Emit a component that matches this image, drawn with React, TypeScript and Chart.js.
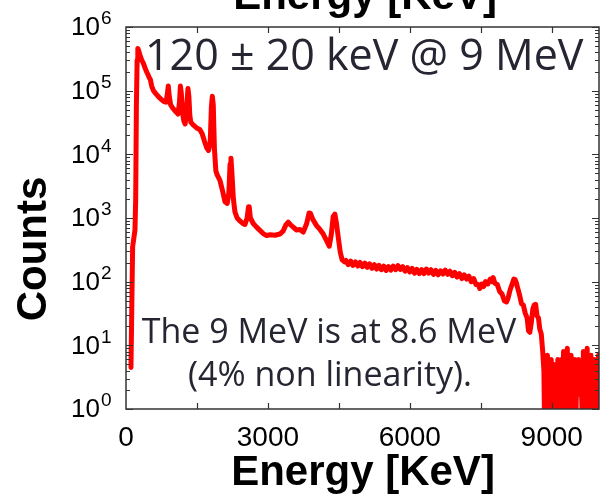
import React, { useEffect, useRef } from "react";
import { Chart, registerables } from "chart.js";

Chart.register(...registerables);

// ---- data ----
const peakEnergy = [
  105, 140, 190, 205, 220, 235, 250, 270, 300, 335, 366, 400, 440, 470, 493, 515, 543, 580, 630, 690,
  754, 810, 850, 875, 894, 912, 944, 990, 1050, 1100, 1130, 1150, 1170, 1195, 1225, 1250, 1280, 1310, 1330, 1350,
  1370, 1420, 1494, 1560, 1610, 1660, 1710, 1745, 1780, 1805, 1825, 1845, 1870, 1900, 1930, 1986, 2040, 2092, 2140, 2175,
  2200, 2219, 2240, 2270, 2303, 2350, 2409, 2470, 2515, 2560, 2590, 2605, 2630, 2690, 2760, 2831, 2900, 2973, 3050, 3150,
  3254, 3320, 3380, 3430, 3480, 3536, 3600, 3677, 3747, 3820, 3870, 3900, 3950, 4029, 4100, 4170, 4240, 4297, 4340, 4380,
  4416, 4450, 4490, 4530, 4570, 4620,
];
const peakCounts = [
  4.5, 350, 650, 2000, 60000, 300000, 460000, 420000, 350000, 300000, 270000, 230000, 195000, 175000, 160000, 150000, 118000, 100000, 90000, 80000,
  72000, 67000, 66000, 90000, 118000, 85000, 60000, 53000, 47000, 43000, 65000, 118000, 90000, 45000, 33000, 30000, 50000, 108000, 80000, 40000,
  32000, 29000, 26000, 24500, 21000, 16000, 12500, 11500, 15000, 55000, 82000, 60000, 12000, 5500, 4700, 3900, 2700, 1800, 1700, 2500,
  7000, 8700, 5000, 2000, 1250, 1000, 900, 820, 790, 1000, 1500, 1500, 1000, 820, 720, 640, 570, 530, 545, 535,
  560, 620, 780, 860, 780, 720, 650, 660, 600, 820, 1200, 1180, 950, 760, 660, 560, 440, 360, 550, 1050,
  1150, 820, 480, 290, 220, 205,
];

const plateauEnergy = [
  4650, 4700, 4750, 4800, 4850, 4900, 4950, 5000, 5050, 5100, 5150, 5200, 5250, 5300, 5350, 5400, 5450, 5500, 5550, 5600,
  5650, 5700, 5750, 5800, 5850, 5900, 5950, 6000, 6050, 6100, 6150, 6200, 6250, 6300, 6350, 6400, 6450, 6500, 6550, 6600,
  6650, 6700, 6750, 6800, 6850, 6900, 6950, 7000, 7050, 7100, 7150, 7200, 7250, 7300, 7350, 7400, 7450, 7480, 7520, 7560,
  7600, 7650, 7700, 7740, 7762, 7800, 7850, 7900, 7950, 8000, 8044, 8080, 8120, 8160, 8200, 8225, 8250, 8280, 8320, 8361,
  8400, 8440, 8480, 8510, 8537, 8570, 8600, 8630, 8660, 8690, 8720, 8748, 8780, 8810, 8835,
];
const plateauCounts = [
  215, 185, 210, 180, 205, 176, 200, 172, 196, 168, 190, 162, 186, 158, 180, 154, 176, 150, 172, 152,
  176, 154, 178, 156, 172, 146, 166, 142, 162, 136, 156, 134, 154, 134, 158, 136, 154, 130, 150, 128,
  148, 132, 152, 130, 146, 124, 140, 118, 134, 112, 128, 110, 122, 100, 112, 90, 90, 78, 92, 84,
  100, 92, 110, 100, 116, 94, 90, 70, 64, 50, 48, 56, 74, 90, 110, 108, 97, 80, 62, 45,
  43, 32, 27, 17, 16, 23, 37, 43, 44, 29, 27, 18, 15, 8, 4,
];

const tailEnergy = [
  8850, 8870, 8890, 8910, 8930, 8950, 8970, 8990, 9010, 9030, 9050, 9070, 9090, 9110, 9130, 9150, 9170, 9190, 9210, 9230,
  9250, 9270, 9290, 9310, 9330, 9350, 9370, 9390, 9410, 9430, 9450, 9470, 9490, 9510, 9530, 9550, 9570, 9590, 9610, 9630,
  9650, 9670, 9690, 9710, 9730, 9750, 9770, 9790, 9810, 9830, 9850, 9870, 9890, 9910, 9930, 9950, 9970, 9990,
];
const tailCounts = [
  0.5, 5, 0.5, 7, 0.5, 4, 2, 6, 1.8, 0.5, 5, 0.5, 3, 1.6, 6, 2, 4, 0.5, 6, 0.5,
  8, 0.5, 5, 0.5, 9, 0.5, 6, 0.5, 7, 0.5, 4, 0.5, 6, 0.5, 5, 2, 6, 1.7, 5, 2,
  0.5, 8, 0.5, 6, 0.5, 9, 0.5, 5, 0.5, 7, 0.5, 4, 0.5, 6, 0.5, 5, 0.5, 7,
];

const energyKeV = [...peakEnergy, ...plateauEnergy, ...tailEnergy];
const counts = [...peakCounts, ...plateauCounts, ...tailCounts];

const xTickValues = [0, 1500, 3000, 4500, 6000, 7500, 9000];
const xTickLabels = ["0", "", "3000", "", "6000", "", "9000"];
const yDecades = [0, 1, 2, 3, 4, 5, 6];

const axisTitleX = "Energy [KeV]";
const axisTitleY = "Counts";
const noteTop = "120 ± 20 keV @ 9 MeV";
const noteLine1 = "The 9 MeV is at 8.6 MeV";
const noteLine2 = "(4% non linearity).";

const decorPlugin = {
  id: "decor",
  afterDraw(chart: any) {
    const ctx = chart.ctx as CanvasRenderingContext2D;
    const { left, right, top, bottom } = chart.chartArea;
    const xs = chart.scales.x;
    const ys = chart.scales.y;
    ctx.save();
    const frameColor = "#333333";
    ctx.strokeStyle = frameColor;
    ctx.lineWidth = 1.5;
    ctx.strokeRect(left, top, right - left, bottom - top);

    // x ticks (bottom and top, inward)
    ctx.lineWidth = 1.2;
    xTickValues.forEach((v) => {
      const px = Math.round(xs.getPixelForValue(v)) + 0.5;
      if (v === 0) return;
      ctx.beginPath();
      ctx.moveTo(px, bottom);
      ctx.lineTo(px, bottom - 6);
      ctx.moveTo(px, top);
      ctx.lineTo(px, top + 6);
      ctx.stroke();
    });
    // y ticks (left and right, inward), major + minor
    yDecades.forEach((d) => {
      for (let m = 1; m <= 9; m++) {
        const val = m * Math.pow(10, d);
        if (val > 1e6) break;
        const py = Math.round(ys.getPixelForValue(val)) + 0.5;
        const len = m === 1 ? 7 : 4;
        ctx.beginPath();
        ctx.moveTo(left, py);
        ctx.lineTo(left + len, py);
        ctx.moveTo(right, py);
        ctx.lineTo(right - len, py);
        ctx.stroke();
      }
    });

    // y tick labels 10^n
    ctx.fillStyle = "#000";
    yDecades.forEach((d) => {
      const py = ys.getPixelForValue(Math.pow(10, d));
      ctx.font = "26px 'Liberation Sans', Arial, sans-serif";
      ctx.textAlign = "right";
      ctx.textBaseline = "middle";
      ctx.fillText("10", 100, py + 1);
      ctx.font = "19px 'Liberation Sans', Arial, sans-serif";
      ctx.textAlign = "left";
      ctx.fillText(String(d), 101, py - 8);
    });

    // x tick labels
    ctx.font = "28px 'Liberation Sans', Arial, sans-serif";
    ctx.textAlign = "center";
    ctx.textBaseline = "alphabetic";
    xTickValues.forEach((v, i) => {
      if (!xTickLabels[i]) return;
      ctx.fillText(xTickLabels[i], xs.getPixelForValue(v), bottom + 37);
    });

    // axis titles
    ctx.font = "bold 42px 'Liberation Sans', Arial, sans-serif";
    ctx.textAlign = "center";
    ctx.fillText(axisTitleX, 363, 485);
    ctx.fillText(axisTitleX, 365, 9);
    ctx.save();
    ctx.translate(46, 249);
    ctx.rotate(-Math.PI / 2);
    ctx.textBaseline = "alphabetic";
    ctx.fillText(axisTitleY, 0, 0);
    ctx.restore();

    // annotations
    ctx.fillStyle = "#262633";
    ctx.textAlign = "left";
    ctx.font = "43px 'Open Sans', 'Noto Sans', sans-serif";
    ctx.fillText(noteTop, 145, 70);
    ctx.textAlign = "center";
    ctx.font = "34px 'Open Sans', 'Noto Sans', sans-serif";
    ctx.fillText(noteLine1, 329, 343);
    ctx.fillText(noteLine2, 330, 386);
    ctx.restore();
  },
};

export default function App() {
  const ref = useRef<HTMLCanvasElement | null>(null);
  useEffect(() => {
    if (!ref.current) return;
    const chart = new Chart(ref.current, {
      type: "line",
      data: {
        datasets: [
          {
            data: energyKeV.map((e, i) => ({ x: e, y: counts[i] })),
            borderColor: "#ff0000",
            borderWidth: 5,
            pointRadius: 0,
            tension: 0,
            borderJoinStyle: "round",
            borderCapStyle: "round",
          },
        ],
      },
      options: {
        responsive: false,
        animation: false,
        layout: { padding: { left: 126, right: 1, top: 27, bottom: 85 } },
        plugins: { legend: { display: false }, tooltip: { enabled: false } },
        scales: {
          x: { type: "linear", min: 0, max: 10000, display: false },
          y: { type: "logarithmic", min: 1, max: 1e6, display: false },
        },
      },
      plugins: [decorPlugin],
    });
    return () => chart.destroy();
  }, []);
  return (
    <div style={{ position: "absolute", left: 0, top: 0, width: 600, height: 494, background: "#fff" }}>
      <canvas ref={ref} width={600} height={494} style={{ display: "block" }} />
    </div>
  );
}
